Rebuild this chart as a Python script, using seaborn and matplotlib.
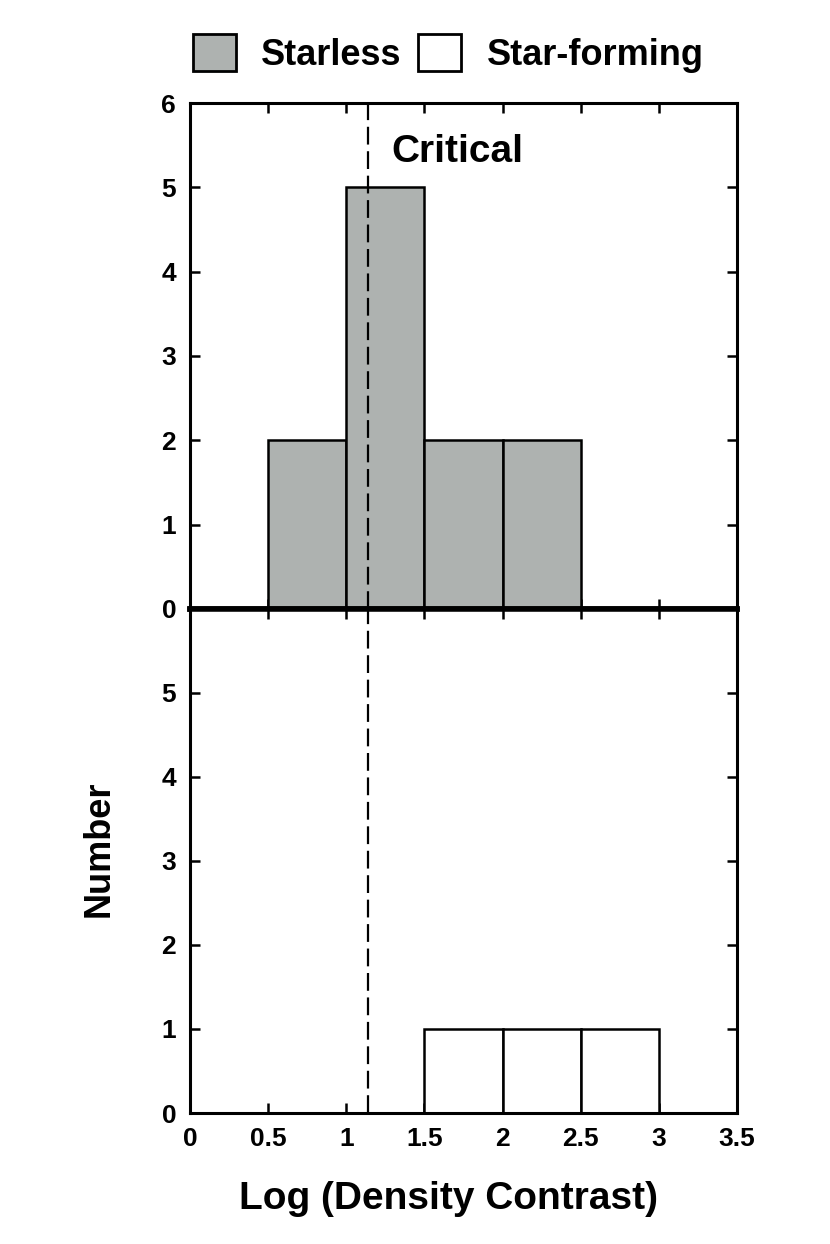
import numpy as np
import pandas as pd
import matplotlib
matplotlib.use("Agg")
import matplotlib.pyplot as plt
from matplotlib.patches import Patch
import seaborn as sns

# histogram bins (log density contrast) and counts per bin
bin_edges = [0.0, 0.5, 1.0, 1.5, 2.0, 2.5, 3.0, 3.5]
starless_counts = [0, 2, 5, 2, 2, 0, 0]
starforming_counts = [0, 0, 0, 1, 1, 1, 0]
critical_value = 1.14
x_ticks = [0, 0.5, 1, 1.5, 2, 2.5, 3, 3.5]
x_tick_labels = ["0", "0.5", "1", "1.5", "2", "2.5", "3", "3.5"]

gray = "#aeb2b0"

sns.set_theme(style="ticks")
plt.rcParams["font.family"] = ["Liberation Sans", "DejaVu Sans"]
plt.rcParams["font.weight"] = "bold"
plt.rcParams["text.color"] = "black"
plt.rcParams["axes.labelcolor"] = "black"
plt.rcParams["xtick.color"] = "black"
plt.rcParams["ytick.color"] = "black"

centers = [(a + b) / 2 for a, b in zip(bin_edges[:-1], bin_edges[1:])]
df_sl = pd.DataFrame({"x": centers, "n": starless_counts})
df_sf = pd.DataFrame({"x": centers, "n": starforming_counts})
df_sl = df_sl[df_sl["n"] > 0]
df_sf = df_sf[df_sf["n"] > 0]

fig = plt.figure(figsize=(8.3, 12.44), dpi=100)
ax1 = fig.add_axes([0.229, 0.5105, 0.659, 0.4067])
ax2 = fig.add_axes([0.229, 0.1053, 0.659, 0.4052], sharex=ax1)

sns.histplot(data=df_sl, x="x", weights="n", bins=bin_edges, ax=ax1,
             color=gray, alpha=1, edgecolor="black", linewidth=1.8)
sns.histplot(data=df_sf, x="x", weights="n", bins=bin_edges, ax=ax2,
             color="white", alpha=1, edgecolor="black", linewidth=1.8)

for ax in (ax1, ax2):
    ax.axvline(critical_value, color="black", lw=1.6, dashes=(8, 3))
    ax.set_xlim(0, 3.5)
    ax.set_ylim(0, 6)
    ax.set_ylabel("")
    ax.set_xlabel("")
    ax.tick_params(direction="in", length=7, width=1.8, top=True, right=True,
                   labelsize=19, pad=10, labelcolor="black")
    for s in ax.spines.values():
        s.set_linewidth(2.2)
        s.set_color("black")
    ax.set_xticks(x_ticks)

ax1.set_yticks([0, 1, 2, 3, 4, 5, 6])
ax2.set_yticks([0, 1, 2, 3, 4, 5])
ax1.spines["bottom"].set_linewidth(4)
ax2.spines["top"].set_linewidth(4)
ax1.tick_params(labelbottom=False)
ax2.set_xticklabels(x_tick_labels)

ax1.text(1.29, 5.42, "Critical", fontsize=28, fontweight="bold", va="center")
ax2.set_xlabel("Log (Density Contrast)", fontsize=28, fontweight="bold", labelpad=22)
ax2.xaxis.set_label_coords(0.472, -0.135)
fig.text(0.12, 0.318, "Number", rotation=90, fontsize=26, fontweight="bold",
         ha="center", va="center")

handles = [Patch(facecolor=gray, edgecolor="black", linewidth=2, label="Starless"),
           Patch(facecolor="white", edgecolor="black", linewidth=2, label="Star-forming")]
fig.legend(handles=handles, loc="center", bbox_to_anchor=(0.54, 0.957), ncol=2,
           frameon=False, fontsize=26, handlelength=1.2, handleheight=1.2,
           handletextpad=0.7, columnspacing=0.45)

fig.savefig("out.png", dpi=100)
